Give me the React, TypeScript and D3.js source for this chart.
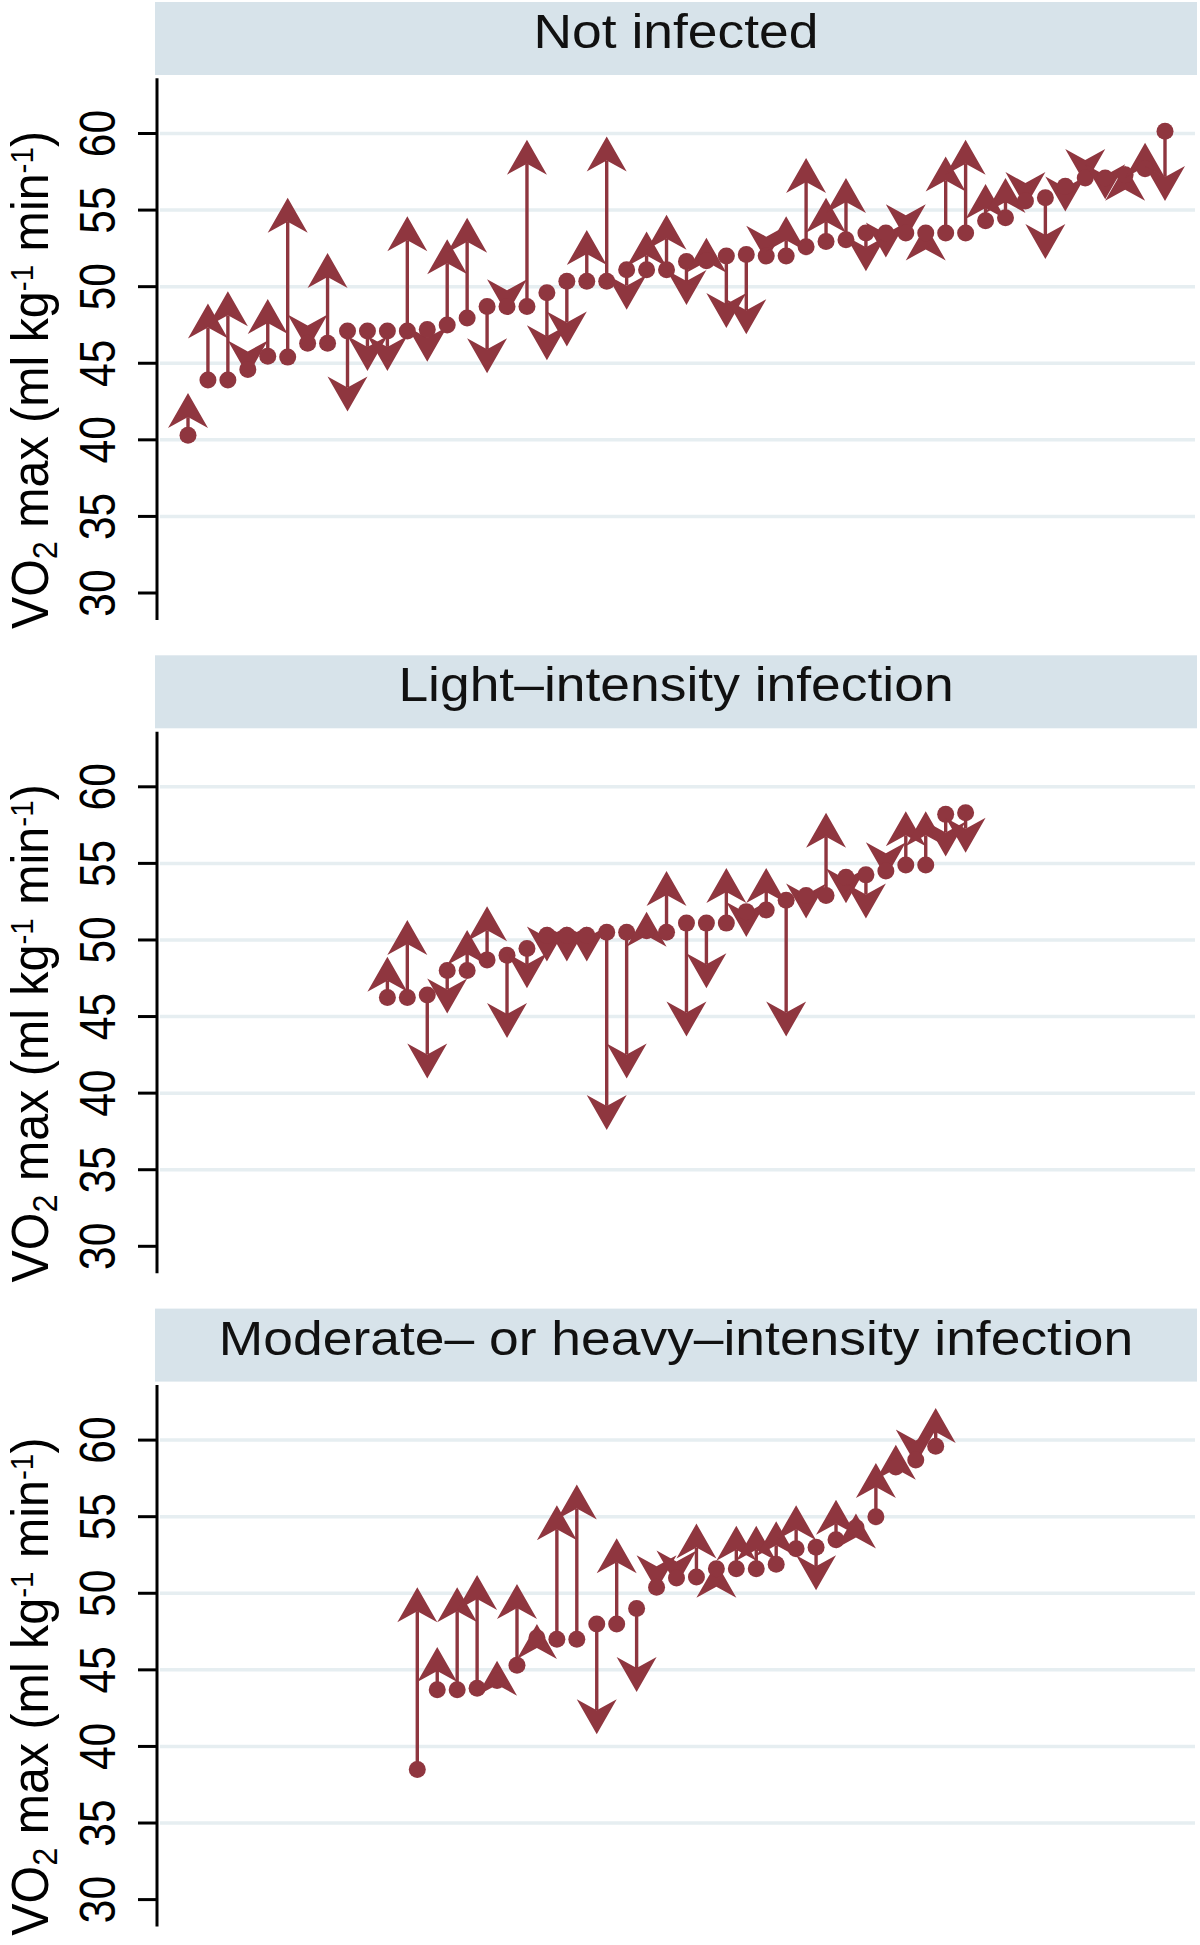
import React from 'react';
import * as d3 from 'd3';

const tickValues = [30, 35, 40, 45, 50, 55, 60];
const gridValues = [35, 40, 45, 50, 55, 60];
const panelTitles = ['Not infected', 'Light–intensity infection', 'Moderate– or heavy–intensity infection'];

const notInfectedStart = [
  40.3, 43.9, 43.9, 44.6, 45.45, 45.4, 46.3, 46.3, 47.1, 47.1,
  47.1, 47.1, 47.2, 47.5, 47.95, 48.7, 48.7, 48.7, 49.6, 50.35,
  50.35, 50.35, 51.1, 51.1, 51.1, 51.65, 51.7, 52.0, 52.1, 52.0,
  52.0, 52.6, 52.95, 53.07, 53.5, 53.5, 53.5, 53.5, 53.5, 53.5,
  54.3, 54.5, 55.6, 55.8, 56.55, 57.1, 57.1, 57.3, 57.7, 60.15,
];
const notInfectedEnd = [
  43.05, 48.9, 49.7, 44.2, 49.2, 55.8, 45.9, 52.2, 41.85, 44.5,
  44.5, 54.6, 45.1, 53.1, 54.5, 44.35, 48.2, 59.6, 45.2, 46.1,
  53.7, 59.8, 48.5, 53.6, 54.7, 48.8, 53.2, 47.3, 46.9, 51.7,
  54.6, 58.4, 55.8, 57.1, 51.0, 51.9, 53.1, 54.0, 58.5, 59.6,
  56.7, 57.1, 55.2, 51.8, 54.9, 56.7, 55.7, 57.9, 59.4, 55.6,
];

const lightStart = [
  46.25, 46.25, 46.4, 48.0, 48.0, 48.7, 49.0, 49.45, 50.3, 50.3,
  50.3, 50.5, 50.5, 50.6, 50.5, 51.1, 51.1, 51.1, 51.85, 51.96,
  52.6, 52.9, 52.9, 54.1, 54.25, 54.5, 54.9, 54.9, 58.2, 58.3,
];
const lightEnd = [
  48.9, 51.3, 40.96, 45.2, 50.65, 52.2, 43.6, 46.85, 48.6, 48.6,
  48.6, 37.6, 40.96, 51.85, 54.5, 43.7, 46.85, 54.7, 50.2, 54.7,
  43.7, 51.4, 58.3, 52.4, 51.4, 54.1, 58.4, 58.4, 55.45, 55.7,
];

const moderateStart = [
  38.5, 43.7, 43.7, 43.8, 44.3, 45.3, 47.1, 47.0, 47.0, 48.0,
  48.0, 49.0, 50.4, 51.0, 51.06, 51.6, 51.6, 51.6, 51.9, 52.9,
  53.0, 53.5, 54.3, 55.0, 58.25, 58.7, 59.6,
];
const moderateEnd = [
  50.4, 46.5, 50.4, 51.2, 45.6, 50.6, 48.0, 55.75, 57.1, 40.8,
  53.6, 43.55, 50.2, 50.5, 54.55, 52.0, 54.4, 54.4, 54.7, 55.75,
  50.2, 56.1, 55.2, 58.5, 59.7, 58.4, 62.1,
];

const W = 1200;
const H = 1945;
const PANEL_STEP = 653.3;
const COLOR = '#8f363f';
const HEAD_LEN = 35;
const HEAD_HALF = 20;
const HEAD_NOTCH = 24;

export default function App() {
  const panels = [
    { title: panelTitles[0], start: notInfectedStart, end: notInfectedEnd },
    { title: panelTitles[1], start: lightStart, end: lightEnd },
    { title: panelTitles[2], start: moderateStart, end: moderateEnd },
  ];
  const x = d3.scaleLinear().domain([-24.5, 24.5]).range([188, 1165]);

  return (
    <svg
      width={W}
      height={H}
      style={{ position: 'absolute', left: 0, top: 0, background: '#fff' }}
      fontFamily="'Liberation Sans', Arial, Helvetica, sans-serif"
    >
      <rect width={W} height={H} fill="#fff" />
      {panels.map((p, i) => {
        const oy = i * PANEL_STEP;
        const y = d3.scaleLinear().domain([30, 60]).range([593 + oy, 133.5 + oy]);
        const n = p.start.length;
        return (
          <g key={i}>
            <rect x={155} y={2 + oy} width={1042} height={73} fill="#d7e3ea" />
            <text
              transform={`translate(676,${48 + oy}) scale(1.09,1)`}
              textAnchor="middle"
              fontSize={49}
              fill="#111"
            >
              {p.title}
            </text>
            {gridValues.map((v) => (
              <line key={v} x1={160} x2={1195} y1={y(v)} y2={y(v)} stroke="#e6eef1" strokeWidth={3.5} />
            ))}
            <line x1={157} x2={157} y1={y(63.6)} y2={y(28.24)} stroke="#000" strokeWidth={3} />
            {tickValues.map((v) => (
              <g key={v}>
                <line x1={138} x2={157} y1={y(v)} y2={y(v)} stroke="#000" strokeWidth={3} />
                <text
                  transform={`translate(115,${y(v)}) rotate(-90) scale(0.85,1)`}
                  textAnchor="middle"
                  fontSize={50}
                  fill="#000"
                >
                  {v}
                </text>
              </g>
            ))}
            <text
              transform={`translate(47.5,${380 + oy}) rotate(-90) scale(0.93,1)`}
              textAnchor="middle"
              fontSize={52}
              fill="#000"
            >
              VO
              <tspan fontSize={35} dy={9}>2</tspan>
              <tspan dy={-9}>{' max (ml kg'}</tspan>
              <tspan fontSize={32} dy={-15}>-1</tspan>
              <tspan dy={15}>{' min'}</tspan>
              <tspan fontSize={32} dy={-15}>-1</tspan>
              <tspan dy={15}>{')'}</tspan>
            </text>
            {p.start.map((s, k) => {
              const cx = x(k - (n - 1) / 2);
              const y0 = y(s);
              const y1 = y(p.end[k]);
              const dir = y1 >= y0 ? 1 : -1;
              const len = Math.abs(y1 - y0);
              const head = `M${cx},${y1} L${cx - HEAD_HALF},${y1 - dir * HEAD_LEN} L${cx},${y1 - dir * HEAD_NOTCH} L${cx + HEAD_HALF},${y1 - dir * HEAD_LEN} Z`;
              return (
                <g key={k}>
                  {len > HEAD_NOTCH && (
                    <line x1={cx} x2={cx} y1={y0} y2={y1 - dir * HEAD_NOTCH} stroke={COLOR} strokeWidth={3.4} />
                  )}
                  <path d={head} fill={COLOR} />
                  <circle cx={cx} cy={y0} r={8.5} fill={COLOR} />
                </g>
              );
            })}
          </g>
        );
      })}
    </svg>
  );
}
